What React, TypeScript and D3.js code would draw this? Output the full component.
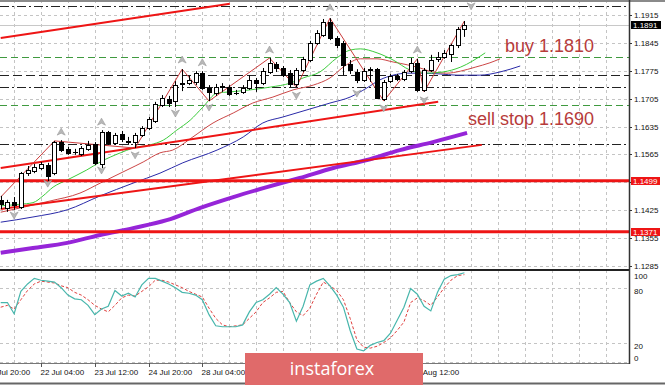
import React from 'react';
import * as d3 from 'd3';

// EURUSD H4 candles
const opens = [1.1451,1.1431,1.1446,1.1433,1.1518,1.1523,1.1531,1.1538,1.1518,1.1596,
  1.1579,1.1571,1.1566,1.1579,1.1591,1.1541,1.1621,1.1594,1.1616,1.1599,
  1.1596,1.1614,1.1631,1.1649,1.1689,1.1704,1.1699,1.1742,1.1744,1.1747,
  1.1769,1.1732,1.1719,1.1737,1.1734,1.1719,1.1722,1.1732,1.1752,1.1744,
  1.1772,1.1792,1.1782,1.1769,1.1742,1.1777,1.1802,1.1845,1.1865,1.1897,
  1.1857,1.1845,1.1792,1.1772,1.1752,1.1779,1.1779,1.1704,1.1749,1.1762,
  1.1754,1.1774,1.1795,1.1727,1.1777,1.1805,1.1810,1.1817,1.1840,1.1880];
const closes = [1.1441,1.1446,1.1438,1.1518,1.1526,1.1533,1.1541,1.1511,1.1596,1.1576,
  1.1569,1.1570,1.1581,1.1589,1.1544,1.1621,1.1594,1.1614,1.1604,1.1596,
  1.1614,1.1631,1.1654,1.1692,1.1707,1.1694,1.1739,1.1744,1.1752,1.1769,
  1.1732,1.1722,1.1734,1.1734,1.1717,1.1718,1.1732,1.1752,1.1744,1.1774,
  1.1795,1.1782,1.1764,1.1742,1.1777,1.1805,1.1845,1.1870,1.1897,1.1857,
  1.1840,1.1790,1.1777,1.1752,1.1774,1.1777,1.1707,1.1747,1.1762,1.1754,
  1.1772,1.1795,1.1727,1.1777,1.1802,1.1810,1.1820,1.1840,1.1880,1.1891];
const highs = [1.1461,1.1451,1.1458,1.1521,1.1536,1.1541,1.1546,1.1544,1.1599,1.1601,
  1.1584,1.1579,1.1586,1.1599,1.1596,1.1626,1.1624,1.1619,1.1624,1.1609,
  1.1619,1.1636,1.1659,1.1697,1.1714,1.1712,1.1749,1.1779,1.1762,1.1774,
  1.1774,1.1739,1.1742,1.1744,1.1739,1.1727,1.1739,1.1764,1.1757,1.1782,
  1.1807,1.1797,1.1787,1.1777,1.1782,1.1810,1.1850,1.1877,1.1905,1.1907,
  1.1862,1.1850,1.1802,1.1779,1.1782,1.1784,1.1782,1.1752,1.1767,1.1767,
  1.1777,1.1807,1.1805,1.1782,1.1815,1.1822,1.1827,1.1842,1.1885,1.1900];
const lows = [1.1428,1.1421,1.1426,1.1428,1.1511,1.1518,1.1526,1.1498,1.1513,1.1571,
  1.1564,1.1564,1.1561,1.1574,1.1538,1.1531,1.1589,1.1589,1.1596,1.1589,
  1.1581,1.1609,1.1626,1.1644,1.1684,1.1684,1.1684,1.1724,1.1739,1.1739,
  1.1727,1.1699,1.1712,1.1722,1.1712,1.1714,1.1717,1.1727,1.1722,1.1739,
  1.1767,1.1772,1.1759,1.1734,1.1734,1.1772,1.1797,1.1840,1.1860,1.1852,
  1.1832,1.1764,1.1767,1.1744,1.1747,1.1747,1.1704,1.1699,1.1744,1.1749,
  1.1749,1.1769,1.1722,1.1722,1.1772,1.1797,1.1805,1.1797,1.1832,1.1860];

// moving averages (shifted ones run past the last bar)
const fastMaBars = [0,2.9,4.8,6.3,7.8,9.9,12.8,14.8,17.8,19.7,22.2,24.2,26.2,28.2,30.1,32.2,34.1,37.1,40.1,43.1,45,47.5,50,52,53.5,56,58.4,60.9,63.4,65.8,68.4,72.1];
const fastMa = [1.1436,1.1440,1.1444,1.1461,1.1483,1.1501,1.1526,1.1546,1.1569,1.1581,1.1589,1.1601,1.1626,1.1651,1.1684,1.1719,1.1722,1.1727,1.1734,1.1744,1.1757,1.1772,1.1807,1.1827,1.1830,1.1820,1.1802,1.1777,1.1769,1.1772,1.1784,1.1820];
const midMaBars = [0,3.5,7.3,11.8,14.8,18.8,21.2,23.7,25.6,28.6,31.6,34.6,37.5,40.5,43.5,46.5,49,51.2,53.5,56,58.4,60.5,62.4,64.3,66.4,68.4,70.6,72.8,74.3];
const midMa = [1.1420,1.1433,1.1448,1.1468,1.1493,1.1526,1.1546,1.1569,1.1576,1.1609,1.1644,1.1669,1.1694,1.1709,1.1727,1.1739,1.1757,1.1787,1.1805,1.1805,1.1797,1.1790,1.1782,1.1772,1.1769,1.1774,1.1784,1.1795,1.1805];
const slowMaBars = [0,4.8,9.9,14.8,19.7,23.7,27.1,32.2,36.1,39,42,46,49,52,54.5,56.4,58.4,60.5,62.8,65.4,67.9,71.3,74.3,77.3];
const slowMa = [1.1395,1.1408,1.1426,1.1461,1.1493,1.1518,1.1544,1.1576,1.1609,1.1644,1.1659,1.1679,1.1694,1.1709,1.1732,1.1752,1.1764,1.1769,1.1769,1.1767,1.1764,1.1764,1.1772,1.1787];
const longMaBars = [0,4.8,9.9,14.8,19.7,24.7,29.7,34.6,39.6,44.5,49.5,54.5,59.4,64.3,69.4];
const longMa = [1.1318,1.1330,1.1343,1.1363,1.1380,1.1400,1.1431,1.1458,1.1483,1.1506,1.1531,1.1551,1.1576,1.1596,1.1619];

const zigzagBars = [0,8,20,27,31,40,44,49,57,62,63,69];
const zigzag = [1.1458,1.1599,1.1581,1.1779,1.1699,1.1807,1.1734,1.1907,1.1699,1.1805,1.1722,1.1900];

const upFractalBars = [9,15,27,30,40,49,62];
const upFractals = [1.1621,1.1646,1.1802,1.1795,1.1827,1.1933,1.1827];
const downFractalBars = [2,7,15,20,26,31,44,53,57,63,70];
const downFractals = [1.1413,1.1493,1.1526,1.1564,1.1669,1.1684,1.1714,1.1719,1.1682,1.1702,1.1938];

const trendFrom = [[0,1.1857],[0,1.1531],[0,1.1428]];
const trendTo = [[34.1,1.1943],[65.1,1.1697],[71.6,1.1589]];

const redLevels = [1.1499, 1.1371];
const greenLevels = [1.1810, 1.1690];
const dashDotLevels = [1.1938, 1.1734, 1.1591];
const dashLevels = [1.1764];
const lastPrice = 1.1891;

const stochMain = [65,65,53,77,85,91,89,88,87,81,73,69,68,62,52,58,61,78,72,75,71,84,91,91,88,85,81,76,75,73,
  68,52,40,39,39,39,41,55,65,68,74,81,74,65,45,61,84,88,91,83,73,60,35,15,13,19,22,24,32,46,60,80,74,61,56,76,90,94,95,97];
const stochSignal = [60,62,58,68,78,85,88,87,86,83,81,76,73,68,62,58,55,62,70,73,72,77,82,89,89,87,84,81,77,74,
  71,59,48,41,39,40,41,48,55,65,70,76,77,65,55,51,59,74,87,83,78,68,48,25,17,16,18,22,27,35,44,65,70,67,62,71,81,89,94,95];

const priceTicks = [1.1915,1.1845,1.1775,1.1705,1.1635,1.1565,1.1495,1.1425,1.1355,1.1285];
const stochTicks = [100, 80, 20, 0];
const timeLabels = ['21 Jul 20:00','22 Jul 04:00','23 Jul 12:00','24 Jul 20:00','28 Jul 04:00','29 Jul 12:00','30 Jul 20:00','3 Aug 04:00','4 Aug 12:00'];
const timeLabelBars = [-2,6,14,22,30,38,46,54,62];

const W = 665;
const H = 385;
const right = 629;
const mainBottom = 269;
const subTop = 270;
const subBottom = 363;
const axisFont = '"Liberation Sans", Arial, sans-serif';

const x = d3.scaleLinear().domain([0, 69]).range([0.7, 464.4]);
const y = d3.scaleLinear().domain([1.1285, 1.1915]).range([266, 15]);
const ys = d3.scaleLinear().domain([0, 100]).range([363, 270]);

const px = (v: number) => Math.round(v) + 0.5;

function maPath(bars: number[], vals: number[]) {
  return d3.line<number>()
    .x((_, i) => x(bars[i]))
    .y(v => y(v))
    .curve(d3.curveMonotoneX)(vals) || '';
}

function stochPath(vals: number[]) {
  return d3.line<number>().x((_, i) => x(i)).y(v => ys(v))(vals) || '';
}

// label baseline offsets so the text sits where MT4 puts it
const stochLabelY = (v: number) => Math.min(Math.max(ys(v) + 5, 279), 361);

export default function App() {
  const gridBars = d3.range(2, 94, 4);
  return (
    <svg width={W} height={H} style={{ position: 'absolute', left: 0, top: 0, background: '#fff' }}>
      <defs>
        <clipPath id="mainClip"><rect x={0} y={0} width={right} height={mainBottom} /></clipPath>
        <clipPath id="subClip"><rect x={0} y={subTop} width={right} height={subBottom - subTop} /></clipPath>
      </defs>
      <rect x={0} y={0} width={W} height={H} fill="#fff" />

      {/* grid */}
      <g stroke="#c4c4c4" strokeDasharray="3,3" strokeWidth={1}>
        {gridBars.map(b => (
          <line key={'gv' + b} x1={px(x(b))} x2={px(x(b))} y1={0} y2={subBottom} />
        ))}
        {priceTicks.map(p => (
          <line key={'gh' + p} x1={0} x2={right} y1={px(y(p))} y2={px(y(p))} />
        ))}
        {[80, 20, 0].map(v => (
          <line key={'gs' + v} x1={0} x2={right} y1={px(ys(v)) - 1} y2={px(ys(v)) - 1} />
        ))}
      </g>

      <g clipPath="url(#mainClip)">
        {/* levels */}
        <line x1={0} x2={right} y1={px(y(lastPrice))} y2={px(y(lastPrice))} stroke="#c8c8c8" />
        {dashDotLevels.map(p => (
          <line key={'dd' + p} x1={0} x2={right} y1={px(y(p))} y2={px(y(p))} stroke="#222" strokeDasharray="9,3,2,3" />
        ))}
        {dashLevels.map(p => (
          <line key={'dl' + p} x1={0} x2={right} y1={px(y(p))} y2={px(y(p))} stroke="#222" strokeDasharray="9,4" />
        ))}
        {greenLevels.map(p => (
          <line key={'gl' + p} x1={0} x2={right} y1={px(y(p))} y2={px(y(p))} stroke="#3f9a3f" strokeDasharray="7,4" />
        ))}

        {/* moving averages */}
        <path d={maPath(longMaBars, longMa)} fill="none" stroke="#9625d8" strokeWidth={4} />
        <path d={maPath(slowMaBars, slowMa)} fill="none" stroke="#2a2aa8" strokeWidth={1} />
        <path d={maPath(midMaBars, midMa)} fill="none" stroke="#cc4646" strokeWidth={1} />
        <path d={maPath(fastMaBars, fastMa)} fill="none" stroke="#3ccc3c" strokeWidth={1} />

        {/* trend lines and key levels */}
        {trendFrom.map((f, i) => (
          <line key={'tl' + i} x1={x(f[0])} y1={y(f[1])} x2={x(trendTo[i][0])} y2={y(trendTo[i][1])}
            stroke="#ee1515" strokeWidth={2} />
        ))}
        {redLevels.map(p => (
          <line key={'rl' + p} x1={0} x2={right} y1={y(p)} y2={y(p)} stroke="#ee1515" strokeWidth={3} />
        ))}

        {/* zigzag */}
        <path d={d3.line<number>().x((_, i) => x(zigzagBars[i])).y(v => y(v))(zigzag) || ''}
          fill="none" stroke="#cc3c3c" strokeWidth={1} />

        {/* candles */}
        {opens.map((o, i) => {
          const c = closes[i];
          const cx = px(x(i));
          const top = Math.round(y(Math.max(o, c)));
          const bot = Math.round(y(Math.min(o, c)));
          const up = c >= o;
          return (
            <g key={'c' + i}>
              <line x1={cx} x2={cx} y1={y(highs[i])} y2={y(lows[i])} stroke="#000" />
              <rect x={cx - 2} y={top + 0.5} width={4} height={Math.max(bot - top, 0.01)}
                fill={up ? '#fff' : '#000'} stroke="#000" strokeWidth={1} />
            </g>
          );
        })}

        {/* fractals */}
        {upFractals.map((p, i) => {
          const ax = x(upFractalBars[i]);
          const ay = y(p);
          return <path key={'fu' + i} d={`M${ax},${ay - 4}L${ax + 4},${ay + 3}L${ax},${ay + 1}L${ax - 4},${ay + 3}Z`}
            fill="#b8b8b8" stroke="#999" strokeWidth={0.6} />;
        })}
        {downFractals.map((p, i) => {
          const ax = x(downFractalBars[i]);
          const ay = y(p);
          return <path key={'fd' + i} d={`M${ax},${ay + 4}L${ax + 4},${ay - 3}L${ax},${ay - 1}L${ax - 4},${ay - 3}Z`}
            fill="#b8b8b8" stroke="#999" strokeWidth={0.6} />;
        })}

        <text x={505} y={52} fontFamily={axisFont} fontSize={18} fill="#b73b3b">buy 1.1810</text>
        <text x={468} y={125} fontFamily={axisFont} fontSize={18} fill="#b73b3b">sell stop 1.1690</text>
      </g>

      {/* stochastic */}
      <g clipPath="url(#subClip)">
        <path d={stochPath(stochSignal)} fill="none" stroke="#e0403e" strokeWidth={1} strokeDasharray="3,2" />
        <path d={stochPath(stochMain)} fill="none" stroke="#48b6ac" strokeWidth={1.2} />
      </g>

      {/* frames */}
      <line x1={0} x2={W} y1={1} y2={1} stroke="#8a8a8a" strokeWidth={2} />
      <line x1={0} x2={right} y1={270} y2={270} stroke="#222" strokeWidth={2} />
      <line x1={0} x2={right} y1={subBottom + 0.5} y2={subBottom + 0.5} stroke="#777" />
      <line x1={right + 0.5} x2={right + 0.5} y1={0} y2={subBottom + 1} stroke="#333" strokeWidth={1.5} />
      <line x1={0} x2={W} y1={383.5} y2={383.5} stroke="#666" strokeWidth={2} />

      {/* price axis */}
      <g fontFamily={axisFont} fontSize={8} fill="#111">
        {priceTicks.map(p => (
          <g key={'pt' + p}>
            <line x1={right} x2={right + 3} y1={px(y(p))} y2={px(y(p))} stroke="#333" />
            <text x={634} y={y(p) + 3}>{p.toFixed(4)}</text>
          </g>
        ))}
        {stochTicks.map(v => (
          <text key={'st' + v} x={634} y={stochLabelY(v)}>{v}</text>
        ))}
      </g>
      <rect x={631} y={Math.round(y(lastPrice)) - 4} width={30} height={8} fill="#000" />
      <text x={633} y={y(lastPrice) + 3} fontFamily={axisFont} fontSize={8} fill="#fff">{lastPrice.toFixed(4)}</text>
      {redLevels.map(p => (
        <g key={'rlab' + p}>
          <rect x={631} y={Math.round(y(p)) - 4} width={29} height={8} fill="#ee1515" />
          <text x={633} y={y(p) + 3} fontFamily={axisFont} fontSize={8} fill="#fff">{p.toFixed(4)}</text>
        </g>
      ))}

      {/* time axis */}
      <g fontFamily={axisFont} fontSize={8} fill="#111">
        {timeLabels.map((t, i) => {
          const tx = px(x(timeLabelBars[i]));
          return (
            <g key={'tt' + i}>
              <line x1={tx} x2={tx} y1={subBottom} y2={subBottom + 4} stroke="#555" />
              <text x={tx - 1} y={375}>{t}</text>
            </g>
          );
        })}
      </g>

      {/* watermark */}
      <rect x={245} y={353} width={178} height={32} fill="#e06a6a" />
      <text x={332} y={375} textAnchor="middle" fontFamily='"Open Sans", sans-serif' fontSize={18} fill="#fff">instaforex</text>
    </svg>
  );
}
